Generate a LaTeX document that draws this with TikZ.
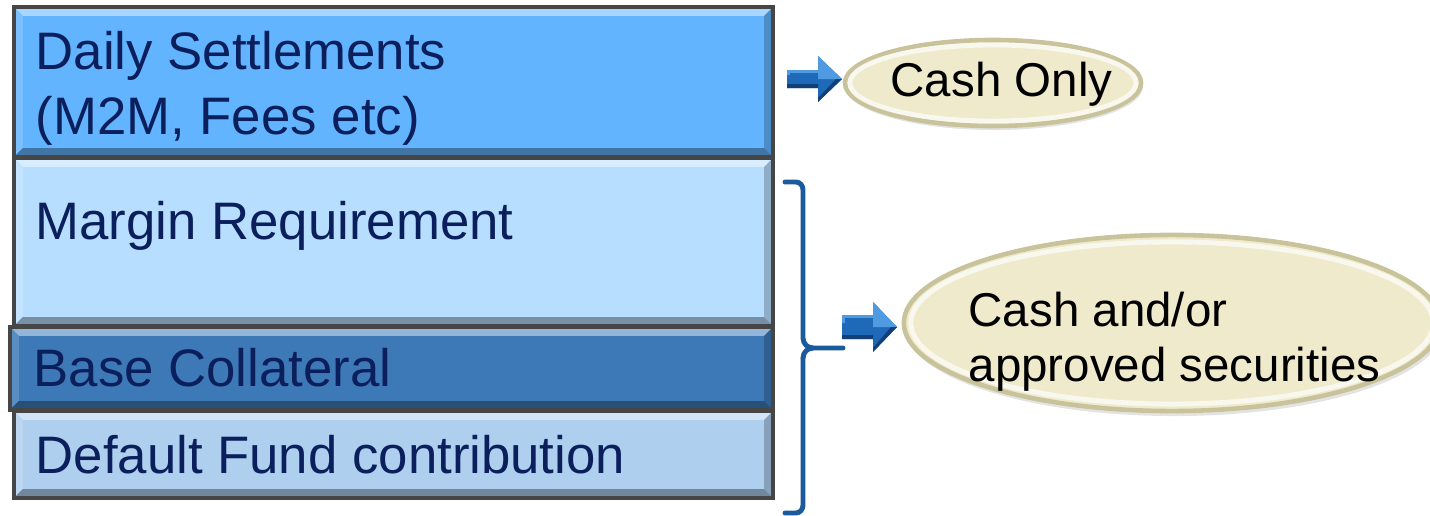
\documentclass[tikz,border=0pt]{standalone}
\usepackage{fontspec}
\setmainfont{Liberation Sans}
\usetikzlibrary{shapes.geometric}

\definecolor{dscol}{HTML}{63B4FF}
\definecolor{mrcol}{HTML}{B8DEFF}
\definecolor{bccol}{HTML}{3D79B6}
\definecolor{dfcol}{HTML}{AECFEE}
\definecolor{tiertxt}{HTML}{0B1F5C}
\definecolor{podfill}{HTML}{EEEACB}
\definecolor{podedge}{HTML}{C9C39C}
\definecolor{arrowblue}{HTML}{1F6AB8}
\definecolor{arrowlight}{HTML}{4F9AE0}
\definecolor{arrowdark}{HTML}{123F78}
\definecolor{bracecol}{HTML}{1B5A9C}

% bevelled edges of a tier box
\newcommand\tierbevel[2]{%
  \fill[#2!55!white] (#1.north west) -- (#1.north east) -- ([shift={(-9,9)}]#1.north east) -- ([shift={(9,9)}]#1.north west) -- cycle;
  \fill[#2!85!white] (#1.north west) -- (#1.south west) -- ([shift={(9,-9)}]#1.south west) -- ([shift={(9,9)}]#1.north west) -- cycle;
  \fill[#2!78!black] (#1.north east) -- (#1.south east) -- ([shift={(-9,-9)}]#1.south east) -- ([shift={(-9,9)}]#1.north east) -- cycle;
  \fill[#2!65!black] (#1.south west) -- (#1.south east) -- ([shift={(-9,-9)}]#1.south east) -- ([shift={(9,-9)}]#1.south west) -- cycle;
  \draw[gray!55!black, line width=1pt] (#1.north west) rectangle (#1.south east);
}

% block arrow starting at a named tail coordinate
\newcommand\blockarrow[3]{% tail, shaft half height, head half height
  \fill[arrowblue] (#1) ++(0,-#2) -- ++(31,0) -- ++(0,{-(#3-#2)}) -- ++(24,#3) -- ++(-24,#3) -- ++(0,{-(#3-#2)}) -- ++(-31,0) -- cycle;
  \fill[arrowlight] (#1) ++(0,-#2) -- ++(31,0) -- ++(0,{-(#3-#2)}) -- ++(24,#3) -- ++(-24,0) -- ++(0,-4) -- ++(-31,0) -- cycle;
  \fill[arrowblue] (#1) ++(3,{-#2+3}) rectangle ++(28,{#2-5});
  \fill[arrowdark] (#1) ++(0,#2) -- ++(31,0) -- ++(0,{#3-#2}) -- ++(24,-#3) -- ++(-6,0) -- ++(-18,{#3-4}) -- ++(0,{-(#3-#2)}) -- ++(-31,{0}) -- cycle;
}

\tikzset{
  tier/.style={rectangle, draw=gray!55!black, line width=1pt, inner sep=0pt, outer sep=0pt},
  tiertext/.style={anchor=base west, inner sep=0pt, text=tiertxt, font=\fontsize{15}{18}\selectfont},
  pod/.style={ellipse, fill=podfill, draw=podedge, line width=1.3pt, inner sep=0pt},
  podtext/.style={anchor=base west, inner sep=0pt, text=black, font=\fontsize{13.5}{16}\selectfont},
  brace/.style={draw=bracecol, line width=1.4pt, line cap=round, line join=round},
}

\begin{document}
\begin{tikzpicture}[x=0.01cm, y=-0.01cm]
\useasboundingbox (0,0) rectangle (1430,515);

% the four tiers of the stack
\node[tier, fill=dscol, minimum width=7.59cm, minimum height=1.50cm] (ds) at (393.5,82) {};
\node[tier, fill=mrcol, minimum width=7.59cm, minimum height=1.68cm] (mr) at (393.5,242) {};
\node[tier, fill=bccol, minimum width=7.63cm, minimum height=0.83cm] (bc) at (391.5,368.5) {};
\node[tier, fill=dfcol, minimum width=7.59cm, minimum height=0.87cm] (df) at (393.5,454.5) {};
\tierbevel{ds}{dscol}
\tierbevel{mr}{mrcol}
\tierbevel{bc}{bccol}
\tierbevel{df}{dfcol}

\node[tiertext] (dst1) at (35,69) {Daily Settlements};
\node[tiertext] (dst2) at (35,134) {(M2M, Fees etc)};
\node[tiertext] (mrt) at (35,239) {Margin Requirement};
\node[tiertext] (bct) at (33,386) {Base Collateral};
\node[tiertext] (dft) at (35,473) {Default Fund contribution};

% bracket grouping the lower three tiers
\draw[brace] (785,182) -- (796,182) to[out=0,in=90] (803,190) -- (803,338) to[out=-90,in=180] (813,348) -- (843,348);
\draw[brace] (803,358) to[out=90,in=180] (813,348);
\draw[brace] (803,358) -- (803,505) to[out=-90,in=0] (796,513) -- (785,513);

% collateral ellipses
\fill[gray, opacity=.22] (994,86) ellipse [x radius=1.49cm, y radius=0.44cm];
\node[pod, minimum width=2.96cm, minimum height=0.86cm] (co) at (993,83) {};
\draw[white, opacity=.7, line width=1.4pt] (co.center) ellipse [x radius=1.43cm, y radius=0.38cm];
\node[podtext] (cot) at (890,97) {Cash Only};

\fill[gray, opacity=.22] (1174,327) ellipse [x radius=2.69cm, y radius=0.89cm];
\node[pod, minimum width=5.36cm, minimum height=1.76cm] (cs) at (1172,323) {};
\draw[white, opacity=.7, line width=1.4pt] (cs.center) ellipse [x radius=2.61cm, y radius=0.81cm];
\node[podtext] (cst1) at (968,326) {Cash and/or};
\node[podtext] (cst2) at (968,381) {approved securities};

% block arrows pointing to the ellipses
\coordinate (a1) at (787,79);
\coordinate (a2) at (842,327);
\blockarrow{a1}{9}{23}
\blockarrow{a2}{12}{25}
\end{tikzpicture}
\end{document}
